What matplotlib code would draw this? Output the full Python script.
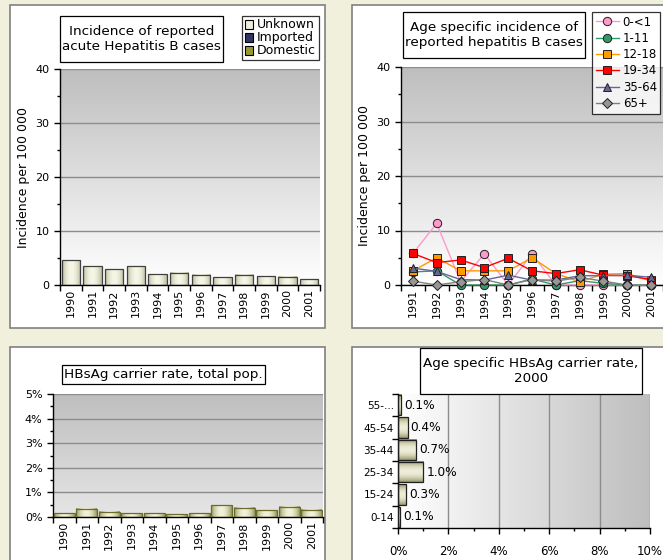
import numpy as np
import matplotlib
matplotlib.use("Agg")
import matplotlib.pyplot as plt
from matplotlib.patches import Rectangle, Patch
from matplotlib.colors import LinearSegmentedColormap, to_rgb

plt.rcParams["font.family"] = ["DejaVu Sans"]

# ---------------------------------------------------------
# Donnees
# ---------------------------------------------------------
annees = ["1990", "1991", "1992", "1993", "1994", "1995",
          "1996", "1997", "1998", "1999", "2000", "2001"]
inc_inconnu = [4.6, 3.5, 2.9, 3.5, 2.0, 2.3, 1.9, 1.4, 1.9, 1.6, 1.5, 1.1]
inc_importe = [0, 0, 0, 0, 0, 0, 0, 0, 0, 0, 0, 0]
inc_domestique = [0, 0, 0, 0, 0, 0, 0, 0, 0, 0, 0, 0]

annees_age = ["1991", "1992", "1993", "1994", "1995", "1996",
              "1997", "1998", "1999", "2000", "2001"]
groupes_age = ["0-<1", "1-11", "12-18", "19-34", "35-64", "65+"]
age_0_1 = [5.8, 11.3, 0.6, 5.7, 0.0, 5.7, 0.0, 0.0, 0.0, 0.0, 0.0]
age_1_11 = [2.4, 2.6, 0.0, 0.0, 0.0, 1.1, 0.0, 0.8, 0.3, 0.0, 0.0]
age_12_18 = [2.6, 5.0, 2.6, 2.6, 2.6, 5.0, 2.1, 0.6, 2.0, 2.1, 0.7]
age_19_34 = [5.8, 4.1, 4.6, 3.2, 4.9, 2.6, 2.1, 2.8, 1.8, 1.7, 1.0]
age_35_64 = [3.1, 2.5, 1.0, 0.9, 1.8, 0.9, 0.9, 1.7, 1.7, 1.8, 1.4]
age_65 = [0.7, 0.0, 0.6, 1.0, 0.0, 1.0, 0.7, 1.4, 0.7, 0.0, 0.0]

porteurs = [0.16, 0.34, 0.22, 0.16, 0.16, 0.12, 0.16, 0.48, 0.37, 0.27, 0.42, 0.30]

tranches = ["0-14", "15-24", "25-34", "35-44", "45-54", "55-..."]
porteurs_age = [0.07, 0.33, 1.0, 0.73, 0.38, 0.12]

# ---------------------------------------------------------
# Outils (coordonnees en pixels)
# ---------------------------------------------------------
W, H = 663, 560
FOND = "#F0F0DC"
T_TITRE = 9.7


def axes_px(fig, x0, y0, x1, y1):
    return fig.add_axes([x0 / W, 1 - y1 / H, (x1 - x0) / W, (y1 - y0) / H])


def boite(fig, x0, y0, x1, y1, bord="#808080", lw=1.2, z=0):
    r = Rectangle((x0 / W, 1 - y1 / H), (x1 - x0) / W, (y1 - y0) / H,
                  transform=fig.transFigure, facecolor="white",
                  edgecolor=bord, linewidth=lw, zorder=z)
    fig.add_artist(r)


def titre(fig, x0, y0, x1, y1, texte, taille=T_TITRE):
    boite(fig, x0, y0, x1, y1, bord="black", lw=0.9, z=3)
    fig.text((x0 + x1) / 2 / W, 1 - (y0 + y1) / 2 / H, texte,
             ha="center", va="center", fontsize=taille, linespacing=1.2,
             zorder=4)


def fond_degrade(ax, haut, bas, vertical=True):
    t = np.linspace(0, 1, 256)
    if vertical:
        g = t[:, None]
        cm = LinearSegmentedColormap.from_list("f", [haut, bas])
    else:
        g = t[None, :]
        cm = LinearSegmentedColormap.from_list("f", [bas, haut])
    ax.imshow(g, cmap=cm, aspect="auto", extent=[0, 1, 0, 1],
              transform=ax.transAxes, zorder=0, origin="upper")


def barre_cylindre(ax, x0, x1, y0, y1, sombre, clair, bord, horiz=True):
    t = np.linspace(0, 1, 64)
    v = np.sin(np.pi * (t * 0.9 + 0.05)) ** 0.8
    c0, c1 = np.array(to_rgb(sombre)), np.array(to_rgb(clair))
    cols = c0[None, :] + (c1 - c0)[None, :] * v[:, None]
    img = cols[None, :, :] if horiz else cols[:, None, :]
    ax.imshow(img, aspect="auto", extent=[x0, x1, y0, y1], zorder=2,
              interpolation="bilinear")
    ax.add_patch(Rectangle((x0, y0), x1 - x0, y1 - y0, fill=False,
                           edgecolor=bord, linewidth=0.9, zorder=3))


def style_axes(ax):
    for s in ["top", "right"]:
        ax.spines[s].set_visible(False)
    ax.spines["left"].set_linewidth(1.0)
    ax.spines["bottom"].set_linewidth(1.0)
    ax.tick_params(which="major", direction="out", length=4, width=1,
                   labelsize=8)
    ax.tick_params(which="minor", direction="out", length=2.5, width=1)


fig = plt.figure(figsize=(W / 100, H / 100), dpi=100, facecolor=FOND)

# panneaux blancs
boite(fig, 10, 5, 325, 328)
boite(fig, 352, 5, 675, 328)
boite(fig, 10, 347, 325, 575)
boite(fig, 352, 347, 675, 575)

# ---------------------------------------------------------
# 1. Incidence hepatite B aigue (barres empilees)
# ---------------------------------------------------------
ax1 = axes_px(fig, 60, 69, 320, 285)
fond_degrade(ax1, "#BEBEBE", "#FFFFFF")
x = np.arange(len(annees))
larg = 0.86
bas = np.zeros(len(annees))
for serie, sombre, clair, bord in [
        (inc_inconnu, "#A8A888", "#F6F6E6", "#404040"),
        (inc_importe, "#222255", "#5555AA", "#222222"),
        (inc_domestique, "#6B6B20", "#B8B850", "#404040")]:
    for i, v in enumerate(serie):
        if v > 0:
            barre_cylindre(ax1, i - larg / 2, i + larg / 2, bas[i], bas[i] + v,
                           sombre, clair, bord)
    bas += np.array(serie)
ax1.set_xlim(-0.5, len(annees) - 0.5)
ax1.set_ylim(0, 40)
ax1.set_yticks([0, 10, 20, 30, 40])
ax1.set_yticks(np.arange(5, 40, 10), minor=True)
ax1.set_xticks(x)
ax1.set_xticklabels(annees, rotation=90)
ax1.set_xticks(np.arange(-0.5, len(annees), 1), minor=True)
style_axes(ax1)
ax1.tick_params(axis="x", which="major", length=0, pad=3)
ax1.tick_params(axis="x", which="minor", length=4)
ax1.grid(axis="y", color="#8C8C8C", linewidth=1.0, zorder=1)
ax1.set_axisbelow(True)
ax1.set_ylabel("Incidence per 100 000", fontsize=9, labelpad=4)

titre(fig, 60, 16, 223, 62, "Incidence of reported\nacute Hepatitis B cases")
poignees = [Patch(facecolor="#EEEED8", edgecolor="black", lw=0.8),
            Patch(facecolor="#333366", edgecolor="black", lw=0.8),
            Patch(facecolor="#999933", edgecolor="black", lw=0.8)]
leg1 = fig.legend(poignees, ["Unknown", "Imported", "Domestic"],
                  loc="upper left", bbox_to_anchor=(242 / W, 1 - 16 / H),
                  fontsize=9, frameon=True, fancybox=False, edgecolor="black",
                  handlelength=0.7, handleheight=0.7, handletextpad=0.3,
                  labelspacing=0.0, borderpad=0.2, borderaxespad=0)
leg1.get_frame().set_linewidth(0.9)

# ---------------------------------------------------------
# 2. Incidence par age (lignes)
# ---------------------------------------------------------
ax2 = axes_px(fig, 401, 67, 663, 285)
fond_degrade(ax2, "#BEBEBE", "#FFFFFF")
xa = np.arange(len(annees_age))
styles = [
    (age_0_1, "#FF99CC", "#FF99CC", "o"),
    (age_1_11, "#339966", "#339966", "o"),
    (age_12_18, "#FF9900", "#FF9900", "s"),
    (age_19_34, "#FF0000", "#FF0000", "s"),
    (age_35_64, "#666699", "#666699", "^"),
    (age_65, "#808080", "#969696", "D"),
]
poignees2 = []
for (serie, lc, fc, m), nom in zip(styles, groupes_age):
    ms = 5 if m == "D" else 6
    ln, = ax2.plot(xa, serie, color=lc, linewidth=1.0, marker=m,
                   markersize=ms, markerfacecolor=fc,
                   markeredgecolor="#202020", markeredgewidth=0.7,
                   zorder=3, clip_on=False)
    poignees2.append(ln)
ax2.set_xlim(-0.5, len(annees_age) - 0.5)
ax2.set_ylim(0, 40)
ax2.set_yticks([0, 10, 20, 30, 40])
ax2.set_yticks(np.arange(5, 40, 10), minor=True)
ax2.set_xticks(xa)
ax2.set_xticklabels(annees_age, rotation=90)
ax2.set_xticks(np.arange(-0.5, len(annees_age), 1), minor=True)
style_axes(ax2)
ax2.tick_params(axis="x", which="major", length=0, pad=3)
ax2.tick_params(axis="x", which="minor", length=4)
ax2.grid(axis="y", color="#8C8C8C", linewidth=1.0, zorder=1)
ax2.set_axisbelow(True)
ax2.set_ylabel("Incidence per 100 000", fontsize=9, labelpad=4)

titre(fig, 403, 12, 585, 58, "Age specific incidence of\nreported hepatitis B cases")
leg2 = fig.legend(poignees2, groupes_age,
                  loc="upper left", bbox_to_anchor=(592 / W, 1 - 12 / H),
                  fontsize=8.5, frameon=True, fancybox=False, edgecolor="black",
                  handlelength=2.0, handletextpad=0.3, labelspacing=0.28,
                  borderpad=0.3, borderaxespad=0)
leg2.get_frame().set_linewidth(0.9)

# ---------------------------------------------------------
# 3. Taux de porteurs HBsAg, population totale
# ---------------------------------------------------------
ax3 = axes_px(fig, 53, 394, 323, 517)
fond_degrade(ax3, "#BEBEBE", "#E6E6E6")
larg3 = 0.92
for i, v in enumerate(porteurs):
    barre_cylindre(ax3, i - larg3 / 2, i + larg3 / 2, 0, v,
                   "#7A7A3C", "#F2F2D8", "#6B6B2A")
ax3.set_xlim(-0.5, len(annees) - 0.5)
ax3.set_ylim(0, 5)
ax3.set_yticks(range(6))
ax3.set_yticklabels([f"{v}%" for v in range(6)])
ax3.set_yticks(np.arange(0.5, 5, 1), minor=True)
ax3.set_xticks(x)
ax3.set_xticklabels(annees, rotation=90)
ax3.set_xticks(np.arange(-0.5, len(annees), 1), minor=True)
style_axes(ax3)
ax3.tick_params(axis="x", which="major", length=0, pad=3)
ax3.tick_params(axis="x", which="minor", length=4)
ax3.grid(axis="y", color="#8C8C8C", linewidth=1.0, zorder=1)
ax3.set_axisbelow(True)

titre(fig, 62, 365, 265, 384, "HBsAg carrier rate, total pop.")

# ---------------------------------------------------------
# 4. Taux de porteurs par age, 2000 (barres horizontales)
# ---------------------------------------------------------
ax4 = axes_px(fig, 398, 394, 650, 528)
fond_degrade(ax4, "#BEBEBE", "#FFFFFF", vertical=False)
y = np.arange(len(tranches))
haut4 = 0.9
for i, v in enumerate(porteurs_age):
    barre_cylindre(ax4, 0, v, i - haut4 / 2, i + haut4 / 2,
                   "#7A7A48", "#EEEED8", "#202020", horiz=False)
    ax4.text(v + 0.12, i, f"{v:.1f}%", va="center", ha="left", fontsize=8.7,
             zorder=4)
ax4.set_ylim(-0.5, len(tranches) - 0.5)
ax4.set_xlim(0, 10)
ax4.set_xticks(range(0, 11, 2))
ax4.set_xticklabels([f"{v}%" for v in range(0, 11, 2)])
ax4.set_xticks(range(1, 10, 2), minor=True)
ax4.set_yticks(y)
ax4.set_yticklabels(tranches)
ax4.set_yticks(np.arange(-0.5, len(tranches), 1), minor=True)
style_axes(ax4)
ax4.tick_params(axis="y", which="major", length=0, pad=3, labelsize=7.5)
ax4.tick_params(axis="y", which="minor", length=4)
ax4.tick_params(axis="x", which="major", pad=8, labelsize=8.5)
ax4.grid(axis="x", color="#8C8C8C", linewidth=1.0, zorder=1)
ax4.set_axisbelow(True)

titre(fig, 420, 348, 642, 394, "Age specific HBsAg carrier rate,\n2000")

fig.savefig("out.png", dpi=100, facecolor=FOND)
